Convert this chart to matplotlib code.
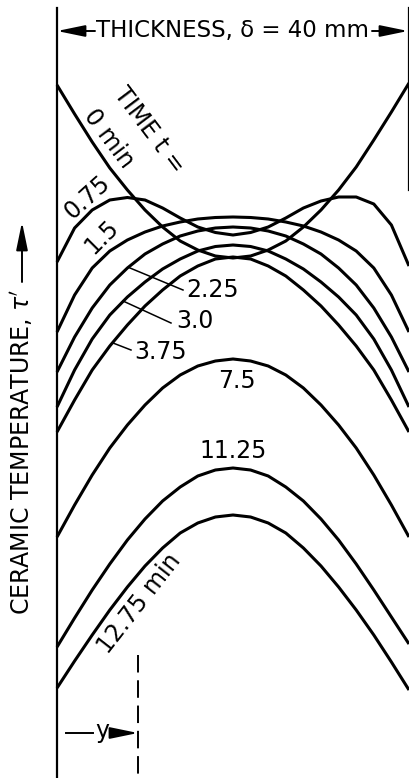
import matplotlib
matplotlib.use("Agg")
import matplotlib.pyplot as plt

# position across the slab, mm
thickness_mm = [0, 2, 4, 6, 8, 10, 12, 14, 16, 18, 20, 22, 24, 26, 28, 30, 32, 34, 36, 38, 40]

# ceramic temperature tau' (arbitrary units), one list per time
t0 = [69.3, 66.4, 63.6, 61.0, 58.8, 56.8, 55.1, 53.7, 52.8, 52.2, 52.0, 52.2, 52.8, 53.7, 55.1, 56.8, 58.8, 61.1, 63.8, 66.6, 69.5]
t075 = [51.6, 55.0, 56.8, 57.8, 58.05, 57.8, 57.0, 56.0, 55.1, 54.55, 54.3, 54.55, 55.1, 56.0, 57.0, 57.7, 58.1, 58.1, 57.4, 55.3, 51.2]
t15 = [44.6, 48.3, 51.0, 52.7, 53.8, 54.6, 55.2, 55.6, 55.9, 56.05, 56.1, 56.05, 55.9, 55.6, 55.2, 54.6, 53.8, 52.7, 51.0, 48.3, 44.6]
t225 = [40.6, 44.1, 47.0, 49.3, 51.0, 52.4, 53.4, 54.2, 54.7, 55.0, 55.1, 55.0, 54.7, 54.2, 53.4, 52.4, 51.0, 49.3, 47.0, 44.1, 40.6]
t30 = [37.1, 40.8, 43.9, 46.3, 48.1, 49.6, 50.9, 51.9, 52.7, 53.15, 53.3, 53.15, 52.7, 51.9, 50.9, 49.6, 48.1, 46.3, 43.9, 40.8, 37.1]
t375 = [34.6, 37.8, 40.8, 43.2, 45.3, 47.2, 48.8, 50.2, 51.2, 51.9, 52.1, 51.9, 51.2, 50.2, 48.8, 47.2, 45.3, 43.2, 40.8, 37.8, 34.6]
t75 = [24.1, 27.3, 30.3, 33.0, 35.3, 37.3, 39.0, 40.3, 41.2, 41.7, 41.9, 41.7, 41.2, 40.3, 39.0, 37.3, 35.3, 33.0, 30.3, 27.3, 24.1]
t1125 = [13.1, 16.0, 18.8, 21.4, 23.8, 25.9, 27.7, 29.1, 30.2, 30.8, 31.0, 30.8, 30.2, 29.1, 27.7, 25.9, 23.8, 21.4, 18.8, 16.1, 13.4]
t1275 = [9.0, 11.7, 14.3, 16.8, 19.1, 21.2, 23.0, 24.5, 25.5, 26.1, 26.3, 26.1, 25.5, 24.5, 23.0, 21.2, 19.1, 16.8, 14.3, 11.6, 8.8]

profiles = [t0, t075, t15, t225, t30, t375, t75, t1125, t1275]

# pixel -> data helpers for placing the annotations
def px(x):
    return (x - 57) / 8.8

def py(y):
    return (778 - y) / 10.0

fig = plt.figure(figsize=(4.1, 7.78), dpi=100)
ax = fig.add_axes([0, 0, 1, 1])
ax.set_xlim(px(0), px(410))
ax.set_ylim(py(778), py(0))
ax.axis("off")

for prof in profiles:
    ax.plot(thickness_mm, prof, color="k", lw=2.2, solid_capstyle="butt", solid_joinstyle="round")

# slab faces
ax.plot([0, 0], [py(778), py(8)], color="k", lw=1.6)
ax.plot([40, 40], [py(190), py(8)], color="k", lw=1.6)

fs = 17
arr = dict(arrowstyle="-|>,head_length=1.7,head_width=0.35", color="k", lw=1.4, mutation_scale=10, shrinkA=0, shrinkB=0)

# thickness dimension
ax.text(px(233), py(30), "THICKNESS, δ = 40 mm", fontsize=16.5, ha="center", va="center")
ax.annotate("", xy=(px(57), py(31)), xytext=(px(95), py(31)), arrowprops=arr)
ax.annotate("", xy=(px(408), py(31)), xytext=(px(372), py(31)), arrowprops=arr)

# axis label with arrow
ax.text(px(22), py(452), "CERAMIC TEMPERATURE, $\\tau'$", fontsize=fs, rotation=90, ha="center", va="center")
ax.annotate("", xy=(px(22), py(222)), xytext=(px(22), py(282)), arrowprops=arr)

# curve labels
ax.text(px(149), py(130), "TIME t =", fontsize=fs, rotation=-53, ha="center", va="center")
ax.text(px(109), py(139), "0 min", fontsize=fs, rotation=-53, ha="center", va="center")
ax.text(px(87), py(197), "0.75", fontsize=fs, rotation=42, ha="center", va="center")
ax.text(px(102), py(237), "1.5", fontsize=fs, rotation=45, ha="center", va="center")
ax.text(px(213), py(290), "2.25", fontsize=fs, ha="center", va="center")
ax.text(px(195), py(321), "3.0", fontsize=fs, ha="center", va="center")
ax.text(px(161), py(352), "3.75", fontsize=fs, ha="center", va="center")
ax.text(px(237), py(381), "7.5", fontsize=fs, ha="center", va="center")
ax.text(px(233), py(451), "11.25", fontsize=fs, ha="center", va="center")
ax.text(px(139), py(604), "12.75 min", fontsize=fs, rotation=52, ha="center", va="center")

# leader lines
ax.plot([px(130), px(183)], [py(268), py(290)], color="k", lw=1.1)
ax.plot([px(123), px(171)], [py(301), py(323)], color="k", lw=1.1)
ax.plot([px(113), px(131)], [py(343), py(350)], color="k", lw=1.1)

# y position marker
ax.plot([px(138), px(138)], [py(655), py(778)], color="k", lw=1.4, linestyle=(0, (9, 4)))
ax.plot([px(66), px(93)], [py(733), py(733)], color="k", lw=1.4)
ax.text(px(102), py(731), "y", fontsize=fs, ha="center", va="center")
ax.annotate("", xy=(px(138), py(733)), xytext=(px(111), py(733)), arrowprops=arr)

fig.savefig("out.png", dpi=100)
